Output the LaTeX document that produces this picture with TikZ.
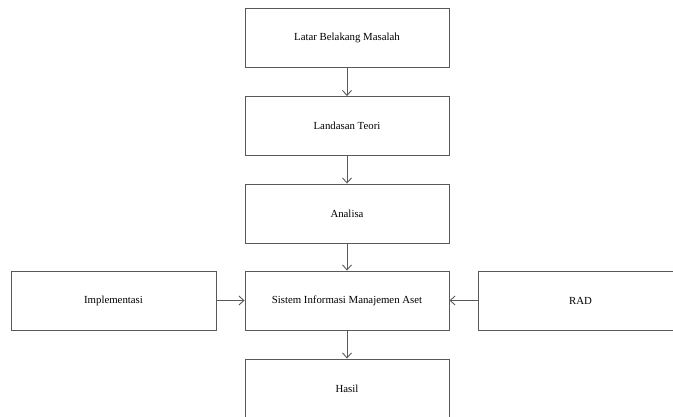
\documentclass[tikz,border=0pt]{standalone}
\usepackage{fontspec}
\setmainfont{Liberation Serif}
\usetikzlibrary{arrows.meta}
\begin{document}
\begin{tikzpicture}[x=1pt,y=-1pt,
  box/.style={draw=black!65, line width=0.9pt, fill=white, minimum width=204pt, minimum height=59pt, inner sep=0pt, font=\fontsize{10.8}{12}\selectfont},
  conn/.style={draw=black!65, line width=0.9pt, -{Straight Barb[length=5pt,width=9pt]}}]
\useasboundingbox (0,0) rectangle (673,416);
\clip (0,0) rectangle (673,416);
\fill[white] (0,0) rectangle (673,416);
\node[box] (a) at (347,37.5) {Latar Belakang Masalah};
\node[box] (b) at (347,126) {Landasan Teori};
\node[box] (c) at (347,213.5) {Analisa};
\node[box] (d) at (347,300.5) {Sistem Informasi Manajemen Aset};
\node[box] (e) at (347,388.5) {Hasil};
\node[box, minimum width=205pt] (l) at (113.5,300.5) {Implementasi};
\node[box, minimum width=205pt] (r) at (580.5,300.5) {RAD};
\draw[conn] (a) -- (b);
\draw[conn] (b) -- (c);
\draw[conn] (c) -- (d);
\draw[conn] (d) -- (e);
\draw[conn] (l) -- (d);
\draw[conn] (r) -- (d);
\end{tikzpicture}
\end{document}
